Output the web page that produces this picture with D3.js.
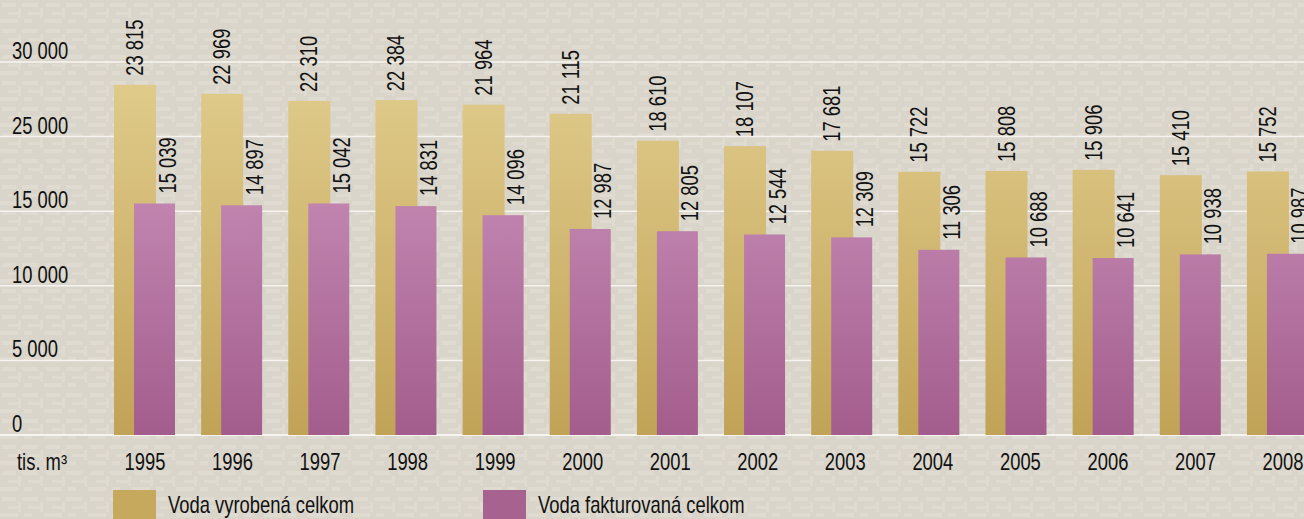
<!DOCTYPE html>
<html>
<head>
<meta charset="utf-8">
<script src="https://cdn.jsdelivr.net/npm/d3@7"></script>
<style>
	html, body { margin: 0; padding: 0; background: #dad6cb; overflow: hidden; }
	svg text { font-family: "Liberation Sans Narrow", "Arial Narrow", "Liberation Sans", Arial, sans-serif; fill: #111; }
</style>
</head>
<body>
<div id="chart"></div>
<script>
// data
const years = [1995, 1996, 1997, 1998, 1999, 2000, 2001, 2002, 2003, 2004, 2005, 2006, 2007, 2008];
const vodaVyrobena = [23815, 22969, 22310, 22384, 21964, 21115, 18610, 18107, 17681, 15722, 15808, 15906, 15410, 15752];
const vodaFakturovana = [15039, 14897, 15042, 14831, 14096, 12987, 12805, 12544, 12309, 11306, 10688, 10641, 10938, 10987];
const yTickLabels = ['0', '5 000', '10 000', '15 000', '25 000', '30 000'];
const seriesNames = ['Voda vyrobená celkom', 'Voda fakturovaná celkom'];
const unitLabel = 'tis. m³';

let width = 1304, height = 519;
let baseY = 435;
let fontSize = 23;
// narrow look (no Arial Narrow installed) -> squeeze the text
let narrow = 'scale(0.8,1)';

let svg = d3.select('#chart').append('svg')
	.attr('width', width)
	.attr('height', height);

let defs = svg.append('defs');

// paper texture
let pat = defs.append('pattern')
	.attr('id', 'paper')
	.attr('width', 44)
	.attr('height', 26)
	.attr('patternUnits', 'userSpaceOnUse');
pat.append('rect').attr('width', 44).attr('height', 26).attr('fill', '#d9d5ca');
[[2, 3, 14, 4], [22, 3, 16, 4], [8, 12, 10, 3], [28, 12, 12, 3], [0, 19, 18, 4], [24, 19, 8, 4], [18, 8, 3, 10], [40, 8, 3, 10]]
	.forEach(r => {
		pat.append('rect')
			.attr('x', r[0]).attr('y', r[1])
			.attr('width', r[2]).attr('height', r[3])
			.attr('fill', '#dfdbd1');
	});

let gGold = defs.append('linearGradient')
	.attr('id', 'gold')
	.attr('gradientUnits', 'userSpaceOnUse')
	.attr('x1', 0).attr('x2', 0).attr('y1', 70).attr('y2', baseY);
gGold.append('stop').attr('offset', 0).attr('stop-color', '#e1cc8c');
gGold.append('stop').attr('offset', 1).attr('stop-color', '#c1a357');

let gPurple = defs.append('linearGradient')
	.attr('id', 'purple')
	.attr('gradientUnits', 'userSpaceOnUse')
	.attr('x1', 0).attr('x2', 0).attr('y1', 190).attr('y2', baseY);
gPurple.append('stop').attr('offset', 0).attr('stop-color', '#c286b1');
gPurple.append('stop').attr('offset', 1).attr('stop-color', '#a35d8d');

svg.append('rect')
	.attr('width', width)
	.attr('height', height)
	.attr('fill', 'url(#paper)');

// scales
let x = d3.scaleBand()
	.domain(years)
	.range([114, 114 + years.length * 87.15])
	.padding(0);

let xLabel = d3.scalePoint()
	.domain(years)
	.range([145, 1283]);

let yGrid = d3.scaleLinear()
	.domain([0, yTickLabels.length - 1])
	.range([baseY, 62]);

// the original draws each series on its own (offset) scale
let yGold = d3.scaleLinear()
	.domain([0, 25000])
	.range([341, 72]);

let yPurple = d3.scaleLinear()
	.domain([0, 25000])
	.range([390, 80]);

let fmt = v => d3.format(',')(v).replace(',', ' ');

// grid lines + y labels
let grid = svg.append('g');

grid.selectAll('line')
	.data(yTickLabels)
	.enter()
	.append('line')
	.attr('x1', 0)
	.attr('x2', width)
	.attr('y1', (d,i) => yGrid(i))
	.attr('y2', (d,i) => yGrid(i))
	.attr('stroke', '#f6f4ef')
	.attr('stroke-width', (d,i) => i == 0 ? 2 : 1.5);

grid.selectAll('text')
	.data(yTickLabels)
	.enter()
	.append('text')
	.attr('transform', (d,i) => `translate(12, ${yGrid(i) - 3}) ${narrow}`)
	.attr('font-size', fontSize)
	.text(d => d);

// bars
let bars = svg.append('g');

bars.selectAll('rect.gold')
	.data(years)
	.enter()
	.append('rect')
	.attr('class', 'gold')
	.attr('x', d => x(d))
	.attr('y', (d,i) => yGold(vodaVyrobena[i]))
	.attr('width', 42)
	.attr('height', (d,i) => baseY - yGold(vodaVyrobena[i]))
	.attr('fill', 'url(#gold)');

bars.selectAll('rect.purple')
	.data(years)
	.enter()
	.append('rect')
	.attr('class', 'purple')
	.attr('x', d => x(d) + 20)
	.attr('y', (d,i) => yPurple(vodaFakturovana[i]))
	.attr('width', 41)
	.attr('height', (d,i) => baseY - yPurple(vodaFakturovana[i]))
	.attr('fill', 'url(#purple)');

// value labels
let labels = svg.append('g');

labels.selectAll('text.gold')
	.data(years)
	.enter()
	.append('text')
	.attr('font-size', fontSize)
	.attr('transform', (d,i) => `translate(${x(d) + 21 + 8}, ${yGold(vodaVyrobena[i]) - 9}) rotate(-90) ${narrow}`)
	.text((d,i) => fmt(vodaVyrobena[i]));

labels.selectAll('text.purple')
	.data(years)
	.enter()
	.append('text')
	.attr('font-size', fontSize)
	.attr('transform', (d,i) => `translate(${x(d) + 20 + 20.5 + 13 + 8}, ${yPurple(vodaFakturovana[i]) - 10}) rotate(-90) ${narrow}`)
	.text((d,i) => fmt(vodaFakturovana[i]));

// x labels
svg.append('text')
	.attr('transform', `translate(17, 470) ${narrow}`)
	.attr('font-size', fontSize)
	.text(unitLabel);

svg.append('g')
	.selectAll('text')
	.data(years)
	.enter()
	.append('text')
	.attr('transform', d => `translate(${xLabel(d)}, 470) ${narrow}`)
	.attr('text-anchor', 'middle')
	.attr('font-size', fontSize)
	.text(d => d);

// legend
let legend = svg.append('g');
let legendX = [113, 483];
let legendFill = ['#c6a95d', '#a8628f'];

legend.selectAll('rect')
	.data(seriesNames)
	.enter()
	.append('rect')
	.attr('x', (d,i) => legendX[i])
	.attr('y', 490)
	.attr('width', 43)
	.attr('height', 32)
	.attr('fill', (d,i) => legendFill[i]);

legend.selectAll('text')
	.data(seriesNames)
	.enter()
	.append('text')
	.attr('transform', (d,i) => `translate(${legendX[i] + 55}, 513) ${narrow}`)
	.attr('font-size', fontSize)
	.text(d => d);
</script>
</body>
</html>
